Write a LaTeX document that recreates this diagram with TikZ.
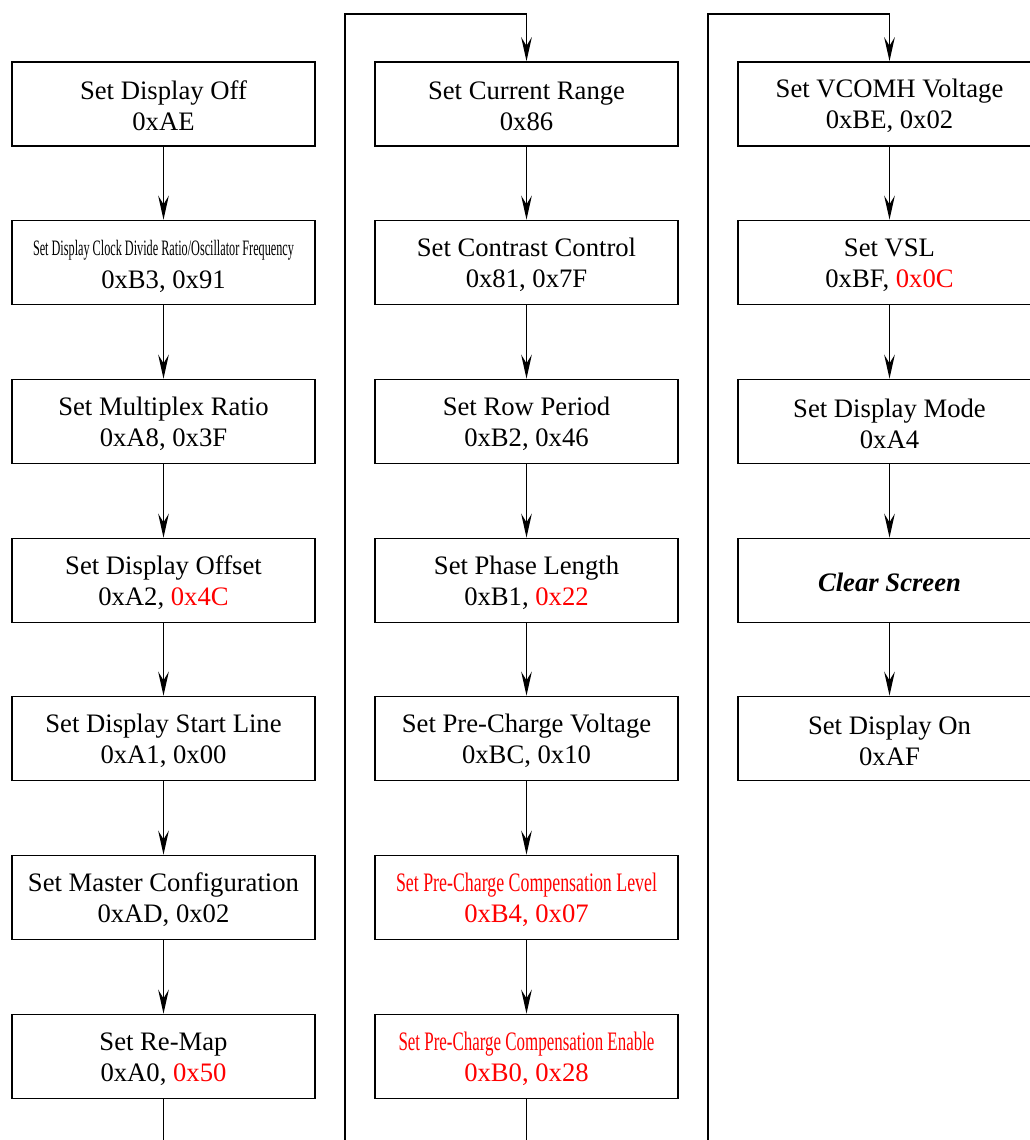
\documentclass[tikz,border=0pt]{standalone}
\usepackage{fontspec}
\setmainfont{Liberation Serif}
\usepackage{graphicx}
\usetikzlibrary{arrows.meta}
\definecolor{hot}{RGB}{255,0,0}
\newcommand{\tp}{\rule{0pt}{17pt}}
\tikzset{
  cmdbox/.style={draw, line width=1.3pt, minimum width=227.25pt, minimum height=63pt, inner sep=0pt, align=center, font=\fontsize{20}{23.5}\selectfont},
  flow/.style={line width=1.3pt, -{Stealth[length=18pt, width=8pt, inset=6.5pt]}},
  wire/.style={line width=1.3pt}
}
\begin{document}
\begin{tikzpicture}[x=0.75pt, y=-0.75pt]
\clip (0,0) rectangle (1030,1140);
% column 1
\node[cmdbox] (a1) at (163.5,104) {\tp Set Display Off\\0xAE};
\node[cmdbox] (a2) at (163.5,262.5) {\tp\resizebox{195.75pt}{\height}{\fontsize{16.5}{19}\selectfont Set Display Clock Divide Ratio/Oscillator Frequency}\\[1pt]0xB3, 0x91};
\node[cmdbox] (a3) at (163.5,421.5) {\tp Set Multiplex Ratio\\0xA8, 0x3F};
\node[cmdbox] (a4) at (163.5,580.5) {\tp Set Display Offset\\0xA2, \textcolor{hot}{0x4C}};
\node[cmdbox] (a5) at (163.5,738.5) {\tp Set Display Start Line\\0xA1, 0x00};
\node[cmdbox] (a6) at (163.5,897.5) {\tp Set Master Configuration\\0xAD, 0x02};
\node[cmdbox] (a7) at (163.5,1056.5) {\tp Set Re-Map\\0xA0, \textcolor{hot}{0x50}};
% column 2
\node[cmdbox] (b1) at (526.5,104) {\tp Set Current Range\\0x86};
\node[cmdbox] (b2) at (526.5,262.5) {\tp Set Contrast Control\\0x81, 0x7F};
\node[cmdbox] (b3) at (526.5,421.5) {\tp Set Row Period\\0xB2, 0x46};
\node[cmdbox] (b4) at (526.5,580.5) {\tp Set Phase Length\\0xB1, \textcolor{hot}{0x22}};
\node[cmdbox] (b5) at (526.5,738.5) {\tp Set Pre-Charge Voltage\\0xBC, 0x10};
\node[cmdbox, text=hot] (b6) at (526.5,897.5) {\tp\resizebox{195.75pt}{\height}{Set Pre-Charge Compensation Level}\\0xB4, 0x07};
\node[cmdbox, text=hot] (b7) at (526.5,1056.5) {\tp\resizebox{192pt}{\height}{Set Pre-Charge Compensation Enable}\\0xB0, 0x28};
% column 3
\node[cmdbox] (c1) at (889.5,104) {\tp Set VCOMH Voltage\\0xBE, 0x02};
\node[cmdbox] (c2) at (889.5,262.5) {\tp Set VSL\\0xBF, \textcolor{hot}{0x0C}};
\node[cmdbox] (c3) at (889.5,421.5) {\tp Set Display Mode\\0xA4};
\node[cmdbox] (c4) at (889.5,580.5) {\tp\textbf{\textit{Clear Screen}}};
\node[cmdbox] (c5) at (889.5,738.5) {\tp Set Display On\\0xAF};
% arrows within columns
\foreach \col in {a,b} {
  \foreach \i [evaluate=\i as \j using int(\i+1)] in {1,...,6} {
    \draw[flow] (\col\i.south) -- (\col\j.north);
  }
}
\foreach \i [evaluate=\i as \j using int(\i+1)] in {1,...,4} {
  \draw[flow] (c\i.south) -- (c\j.north);
}
% column links
\coordinate (a7end) at (163.5,1150);
\coordinate (b7end) at (526.5,1150);
\coordinate (l2bot) at (345,1150);
\coordinate (l2top) at (345,14);
\coordinate (l3bot) at (708,1150);
\coordinate (l3top) at (708,14);
\draw[wire] (a7.south) -- (a7end);
\draw[wire] (b7.south) -- (b7end);
\draw[flow] (l2bot) -- (l2top) -| (b1.north);
\draw[flow] (l3bot) -- (l3top) -| (c1.north);
\end{tikzpicture}
\end{document}
